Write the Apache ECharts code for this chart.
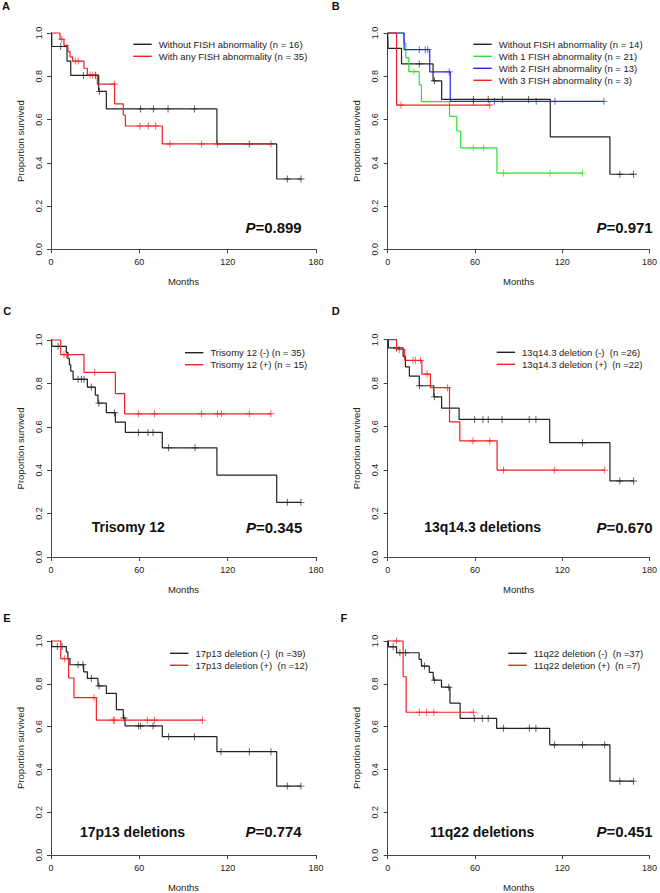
<!DOCTYPE html>
<html><head><meta charset="utf-8">
<script src="https://cdn.jsdelivr.net/npm/echarts@6/dist/echarts.min.js"></script>
<style>html,body{margin:0;padding:0;background:#fff}#c{width:660px;height:893px}</style>
</head><body><div id="c"></div>
<script>
// ---------------- data ----------------
const xTicks = [0, 60, 120, 180];            // Months
const yTicks = [0, 0.2, 0.4, 0.6, 0.8, 1.0];  // Proportion survived

// Panel A
const A_none_t = [0, 0.5, 10.9, 13.4, 32.4, 37.6, 112.7, 153.3, 169.8];
const A_none_s = [1, 0.9375, 0.870, 0.804, 0.730, 0.649, 0.487, 0.325, 0.325];
const A_none_c = [6.6, 22.0, 30.3, 33.0, 60.9, 69.5, 79.5, 97.4, 134.7, 160.5, 169.8];
const A_any_t = [0, 6.1, 8.8, 11.5, 12.9, 14.7, 22.4, 24.7, 31.5, 43.2, 49.1, 50.5, 75.6, 149.4];
const A_any_s = [1, 0.971, 0.943, 0.914, 0.890, 0.870, 0.837, 0.806, 0.764, 0.672, 0.621, 0.570, 0.487, 0.487];
const A_any_c = [7.3, 16.5, 18.5, 26.5, 28.3, 30.3, 43.0, 60.4, 66.1, 71.1, 80.8, 102.3, 113.0, 149.4];

// Panel B
const B_none_t = [0, 0.3, 9.5, 31.2, 37.1, 111.8, 152.8, 169.1];
const B_none_s = [1, 0.929, 0.857, 0.779, 0.693, 0.520, 0.347, 0.347];
const B_none_c = [21.7, 32.1, 58.9, 69.1, 78.8, 96.9, 159.6, 169.1];
const B_one_t = [0, 11.1, 12.5, 14.5, 21.7, 23.2, 42.5, 47.5, 50.2, 75.1, 134.0];
const B_one_s = [1, 0.952, 0.885, 0.821, 0.760, 0.683, 0.615, 0.547, 0.469, 0.352, 0.352];
const B_one_c = [18.1, 58.8, 65.9, 79.7, 111.6, 134.0];
const B_two_t = [0, 11.3, 28.9, 43.0, 148.7];
const B_two_s = [1, 0.923, 0.820, 0.684, 0.684];
const B_two_c = [21.7, 25.8, 27.6, 42.3, 58.9, 73.4, 102.1, 115.0, 148.7];
const B_three_t = [0, 6.1, 70.2];
const B_three_s = [1, 0.667, 0.667];
const B_three_c = [9.1, 70.2];

// Panel C
const C_neg_t = [0, 0.5, 10.4, 11.5, 12.5, 13.4, 15.0, 24.7, 30.1, 31.9, 37.6, 43.7, 50.5, 75.6, 112.7, 153.3, 169.8];
const C_neg_s = [1, 0.971, 0.943, 0.914, 0.886, 0.857, 0.819, 0.783, 0.746, 0.709, 0.665, 0.622, 0.574, 0.503, 0.377, 0.252, 0.252];
const C_neg_c = [4.8, 18.4, 20.6, 22.4, 27.4, 32.5, 43.2, 59.5, 65.9, 69.3, 79.9, 97.8, 160.5, 169.8];
const C_pos_t = [0, 6.6, 22.4, 43.7, 50.0, 149.4];
const C_pos_s = [1, 0.933, 0.851, 0.753, 0.660, 0.660];
const C_pos_c = [8.8, 10.4, 29.7, 59.5, 70.3, 102.3, 113.0, 115.9, 134.7, 149.4];

// Panel D
const D_neg_t = [0, 0.5, 10.6, 12.2, 14.9, 21.7, 31.7, 37.1, 49.1, 111.4, 152.8, 169.1];
const D_neg_s = [1, 0.962, 0.923, 0.875, 0.832, 0.788, 0.737, 0.685, 0.633, 0.526, 0.350, 0.350];
const D_neg_c = [6.0, 21.9, 32.1, 59.8, 65.5, 69.1, 78.6, 97.3, 101.9, 134.0, 159.6, 169.1];
const D_pos_t = [0, 6.1, 11.7, 23.5, 29.4, 42.5, 49.6, 75.2, 149.2];
const D_pos_s = [1, 0.955, 0.905, 0.842, 0.779, 0.622, 0.534, 0.400, 0.400];
const D_pos_c = [7.9, 17.4, 19.0, 22.6, 27.1, 41.2, 58.6, 70.2, 79.7, 114.8, 149.2];

// Panel E
const E_neg_t = [0, 0.5, 10.4, 11.5, 12.9, 22.2, 24.7, 31.9, 37.6, 44.4, 49.1, 50.3, 75.6, 112.7, 153.3, 169.8];
const E_neg_s = [1, 0.974, 0.949, 0.918, 0.889, 0.856, 0.825, 0.790, 0.755, 0.679, 0.640, 0.603, 0.553, 0.483, 0.322, 0.322];
const E_neg_c = [4.3, 7.5, 18.4, 21.7, 27.4, 32.6, 49.5, 59.5, 60.9, 69.3, 79.9, 97.4, 115.5, 134.7, 149.4, 160.5, 169.8];
const E_pos_t = [0, 6.6, 12.0, 15.6, 30.8, 103.0];
const E_pos_s = [1, 0.917, 0.827, 0.735, 0.630, 0.630];
const E_pos_c = [9.3, 29.2, 42.3, 43.2, 65.4, 70.3, 103.0];

// Panel F
const F_neg_t = [0, 0.5, 6.1, 21.6, 23.2, 28.6, 31.3, 37.0, 42.8, 49.8, 74.9, 111.4, 152.8, 169.1];
const F_neg_s = [1, 0.973, 0.945, 0.914, 0.883, 0.853, 0.817, 0.784, 0.710, 0.638, 0.592, 0.515, 0.345, 0.345];
const F_neg_c = [3.8, 8.4, 12.2, 25.3, 32.1, 42.0, 59.5, 65.0, 69.1, 79.7, 97.4, 101.9, 114.8, 134.0, 149.2, 159.6, 169.1];
const F_pos_t = [0, 10.6, 12.7, 58.9];
const F_pos_s = [1, 0.833, 0.667, 0.667];
const F_pos_c = [6.1, 21.7, 26.8, 31.7, 58.9];

// labels
const panelLetters = ['A', 'B', 'C', 'D', 'E', 'F'];
const pValues = ['0.899', '0.971', '0.345', '0.670', '0.774', '0.451'];
const panelTitles = ['', '', 'Trisomy 12', '13q14.3 deletions', '17p13 deletions', '11q22 deletions'];
const xName = 'Months';
const yName = 'Proportion survived';

// ---------------- styling / layout ----------------
const BLACK = '#222222', RED = '#ee2222', GREEN = '#33dd33', BLUE = '#2626dd';
const FONT = '"Liberation Sans", Arial, Helvetica, sans-serif';

const panels = [
  { grid: [51, 33, 265, 216.3], legend: [133.3, 38.3], letter: [2, 6], p: [301.7, 227.7], title: null,
    curves: [
      { name: 'Without FISH abnormality (n = 16)', color: BLACK, t: A_none_t, s: A_none_s, c: A_none_c },
      { name: 'With any FISH abnormality (n = 35)', color: RED, t: A_any_t, s: A_any_s, c: A_any_c }] },
  { grid: [387.7, 33, 265, 216.3], legend: [473.3, 38.3], letter: [331.7, 6.3], p: [652.7, 227.7], title: null,
    curves: [
      { name: 'Without FISH abnormality (n = 14)', color: BLACK, t: B_none_t, s: B_none_s, c: B_none_c },
      { name: 'With 1 FISH abnormality (n = 21)', color: GREEN, t: B_one_t, s: B_one_s, c: B_one_c },
      { name: 'With 2 FISH abnormality (n = 13)', color: BLUE, t: B_two_t, s: B_two_s, c: B_two_c },
      { name: 'With 3 FISH abnormality (n = 3)', color: RED, t: B_three_t, s: B_three_s, c: B_three_c }] },
  { grid: [51, 340, 265, 217], legend: [185, 346.7], letter: [3.3, 311.2], p: [302.3, 527.3], title: [91.7, 527.3],
    curves: [
      { name: 'Trisomy 12 (-) (n = 35)', color: BLACK, t: C_neg_t, s: C_neg_s, c: C_neg_c },
      { name: 'Trisomy 12 (+) (n = 15)', color: RED, t: C_pos_t, s: C_pos_s, c: C_pos_c }] },
  { grid: [387.7, 339.7, 265, 217.3], legend: [496.7, 346.3], letter: [331.7, 310.7], p: [652.7, 527.3], title: [424.3, 527.3],
    curves: [
      { name: '13q14.3 deletion (-)  (n =26)', color: BLACK, t: D_neg_t, s: D_neg_s, c: D_neg_c },
      { name: '13q14.3 deletion (+)  (n =22)', color: RED, t: D_pos_t, s: D_pos_s, c: D_pos_c }] },
  { grid: [51, 641, 265, 217.3], legend: [170, 647.3], letter: [3.3, 618], p: [301.7, 831.7], title: [80, 831.7],
    curves: [
      { name: '17p13 deletion (-)  (n =39)', color: BLACK, t: E_neg_t, s: E_neg_s, c: E_neg_c },
      { name: '17p13 deletion (+)  (n =12)', color: RED, t: E_pos_t, s: E_pos_s, c: E_pos_c }] },
  { grid: [387.7, 641, 265, 217.3], legend: [508.3, 647.3], letter: [340.5, 618], p: [652.7, 831.7], title: [430, 831.7],
    curves: [
      { name: '11q22 deletion (-)  (n =37)', color: BLACK, t: F_neg_t, s: F_neg_s, c: F_neg_c },
      { name: '11q22 deletion (+)  (n =7)', color: RED, t: F_pos_t, s: F_pos_s, c: F_pos_c }] }
];

function survAt(t, s, time) {
  let v = s[0];
  for (let i = 0; i < t.length; i++) { if (t[i] <= time) v = s[i]; else break; }
  return v;
}

const PLUS = 'path://M3.5,0 H4.5 V3.5 H8 V4.5 H4.5 V8 H3.5 V4.5 H0 V3.5 H3.5 Z';
const AXIS_COLOR = '#444';

const option = {
  animation: false,
  backgroundColor: '#fff',
  grid: [], xAxis: [], yAxis: [], series: [], legend: [], graphic: []
};

panels.forEach((p, i) => {
  option.grid.push({ left: p.grid[0], top: p.grid[1], width: p.grid[2], height: p.grid[3], containLabel: false });
  option.xAxis.push({
    type: 'value', gridIndex: i,
    min: xTicks[0], max: xTicks[xTicks.length - 1], interval: xTicks[1] - xTicks[0],
    name: xName, nameLocation: 'middle', nameGap: 27,
    nameTextStyle: { fontFamily: FONT, fontSize: 9.5, color: '#222' },
    axisLine: { show: true, onZero: false, lineStyle: { color: AXIS_COLOR, width: 1 } },
    axisTick: { show: true, inside: false, length: 4, lineStyle: { color: AXIS_COLOR } },
    axisLabel: { fontFamily: FONT, fontSize: 9, color: '#222', margin: 8 },
    splitLine: { show: false }
  });
  option.yAxis.push({
    type: 'value', gridIndex: i,
    min: yTicks[0], max: yTicks[yTicks.length - 1], interval: yTicks[1] - yTicks[0],
    name: yName, nameLocation: 'middle', nameGap: 26,
    nameTextStyle: { fontFamily: FONT, fontSize: 9.5, color: '#222' },
    axisLine: { show: true, onZero: false, lineStyle: { color: AXIS_COLOR, width: 1 } },
    axisTick: { show: true, inside: false, length: 4, lineStyle: { color: AXIS_COLOR } },
    axisLabel: { fontFamily: FONT, fontSize: 9, color: '#222', margin: 8, rotate: 90,
      formatter: v => v.toFixed(1) },
    splitLine: { show: false }
  });
  p.curves.forEach(cv => {
    option.series.push({
      type: 'line', name: cv.name, xAxisIndex: i, yAxisIndex: i,
      step: 'end', showSymbol: false, symbol: 'none', clip: false, silent: true,
      color: cv.color,
      lineStyle: { color: cv.color, width: 1.2 },
      data: cv.t.map((x, j) => [x, cv.s[j]])
    });
    option.series.push({
      type: 'scatter', name: cv.name + ' censored', xAxisIndex: i, yAxisIndex: i,
      symbol: PLUS, symbolSize: 7, clip: false, silent: true,
      itemStyle: { color: cv.color },
      data: cv.c.map(x => [x, survAt(cv.t, cv.s, x)])
    });
  });
  option.legend.push({
    orient: 'vertical', left: p.legend[0], top: p.legend[1], padding: 0, itemGap: 0,
    itemWidth: 18.4, itemHeight: 1.4, icon: 'rect', selectedMode: false,
    data: p.curves.map(cv => cv.name),
    textStyle: { fontFamily: FONT, fontSize: 9.5, color: '#222', lineHeight: 12, padding: [0, 0, 0, 2] }
  });
  option.graphic.push({
    type: 'text', x: p.letter[0], y: p.letter[1],
    style: { text: panelLetters[i], font: 'bold 11px ' + FONT, fill: '#111', textAlign: 'left', textVerticalAlign: 'middle' }
  });
  option.graphic.push({
    type: 'text', x: p.p[0], y: p.p[1],
    style: { text: '{i|P}=' + pValues[i], font: 'bold 15px ' + FONT, fill: '#111',
      textAlign: 'right', textVerticalAlign: 'middle',
      rich: { i: { fontStyle: 'italic', fontWeight: 'bold', fontSize: 15, fontFamily: FONT, fill: '#111' } } }
  });
  if (p.title) {
    option.graphic.push({
      type: 'text', x: p.title[0], y: p.title[1],
      style: { text: panelTitles[i], font: 'bold 14px ' + FONT, fill: '#111', textAlign: 'left', textVerticalAlign: 'middle' }
    });
  }
});

const chart = echarts.init(document.getElementById('c'), null, { renderer: 'svg', width: 660, height: 893 });
chart.setOption(option);
</script>
</body></html>
